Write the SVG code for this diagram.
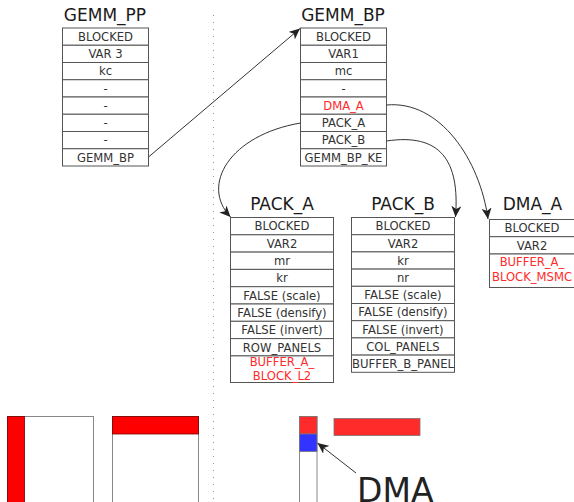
<svg xmlns="http://www.w3.org/2000/svg" width="574" height="502" viewBox="0 0 574 502">
<defs>
<style>
.c{fill:#fff;stroke:#555;stroke-width:1}
.t{font-family:"DejaVu Sans",sans-serif;font-size:11.6px;fill:#333;text-anchor:middle}
.r{fill:#ff2a2a}
.h{font-family:"DejaVu Sans",sans-serif;font-size:17px;fill:#1a1a1a;text-anchor:middle}
.e{fill:none;stroke:#333;stroke-width:1}
</style>
<marker id="ah" markerWidth="12" markerHeight="10" refX="11" refY="5" orient="auto" markerUnits="userSpaceOnUse">
<path d="M0,0 L11,5 L0,10 L3,5 Z" fill="#222"/>
</marker>
</defs>
<rect width="574" height="502" fill="#fff"/>
<line x1="213.5" y1="15" x2="213.5" y2="502" stroke="#999" stroke-width="1" stroke-dasharray="1,6"/>

<g id="gemm_pp">
<text class="h" x="105" y="21">GEMM_PP</text>
<rect class="c" x="62.5" y="28" width="86" height="17.25"/>
<rect class="c" x="62.5" y="45.25" width="86" height="17.25"/>
<rect class="c" x="62.5" y="62.5" width="86" height="17.25"/>
<rect class="c" x="62.5" y="79.75" width="86" height="17.25"/>
<rect class="c" x="62.5" y="97" width="86" height="17.25"/>
<rect class="c" x="62.5" y="114.25" width="86" height="17.25"/>
<rect class="c" x="62.5" y="131.5" width="86" height="17.25"/>
<rect class="c" x="62.5" y="148.75" width="86" height="17.25"/>
<text class="t" x="105.5" y="40.8">BLOCKED</text>
<text class="t" x="105.5" y="58">VAR 3</text>
<text class="t" x="105.5" y="75.3">kc</text>
<text class="t" x="105.5" y="92.5">-</text>
<text class="t" x="105.5" y="109.8">-</text>
<text class="t" x="105.5" y="127">-</text>
<text class="t" x="105.5" y="144.3">-</text>
<text class="t" x="105.5" y="161.5">GEMM_BP</text>
</g>

<g id="gemm_bp">
<text class="h" x="343" y="21">GEMM_BP</text>
<rect class="c" x="300.5" y="28" width="86" height="17.25"/>
<rect class="c" x="300.5" y="45.25" width="86" height="17.25"/>
<rect class="c" x="300.5" y="62.5" width="86" height="17.25"/>
<rect class="c" x="300.5" y="79.75" width="86" height="17.25"/>
<rect class="c" x="300.5" y="97" width="86" height="17.25"/>
<rect class="c" x="300.5" y="114.25" width="86" height="17.25"/>
<rect class="c" x="300.5" y="131.5" width="86" height="17.25"/>
<rect class="c" x="300.5" y="148.75" width="86" height="17.25"/>
<text class="t" x="343.5" y="40.8">BLOCKED</text>
<text class="t" x="343.5" y="58">VAR1</text>
<text class="t" x="343.5" y="75.3">mc</text>
<text class="t" x="343.5" y="92.5">-</text>
<text class="t r" x="343.5" y="109.8">DMA_A</text>
<text class="t" x="343.5" y="127">PACK_A</text>
<text class="t" x="343.5" y="144.3">PACK_B</text>
<text class="t" x="343.5" y="161.5">GEMM_BP_KE</text>
</g>

<g id="pack_a">
<text class="h" x="282" y="210">PACK_A</text>
<rect class="c" x="230.5" y="217.5" width="103" height="17.3"/>
<rect class="c" x="230.5" y="234.8" width="103" height="17.3"/>
<rect class="c" x="230.5" y="252.1" width="103" height="17.3"/>
<rect class="c" x="230.5" y="269.4" width="103" height="17.3"/>
<rect class="c" x="230.5" y="286.7" width="103" height="17.3"/>
<rect class="c" x="230.5" y="304" width="103" height="17.3"/>
<rect class="c" x="230.5" y="321.3" width="103" height="17.3"/>
<rect class="c" x="230.5" y="338.6" width="103" height="17.3"/>
<rect class="c" x="230.5" y="355.9" width="103" height="26.6"/>
<text class="t" x="282" y="230.4">BLOCKED</text>
<text class="t" x="282" y="247.7">VAR2</text>
<text class="t" x="282" y="265">mr</text>
<text class="t" x="282" y="282.3">kr</text>
<text class="t" x="282" y="299.6">FALSE (scale)</text>
<text class="t" x="282" y="316.9">FALSE (densify)</text>
<text class="t" x="282" y="334.2">FALSE (invert)</text>
<text class="t" x="282" y="351.5">ROW_PANELS</text>
<text class="t r" x="282" y="365.5">BUFFER_A_</text>
<text class="t r" x="282" y="379.5">BLOCK_L2</text>
</g>

<g id="pack_b">
<text class="h" x="403" y="210">PACK_B</text>
<rect class="c" x="351.5" y="217.5" width="103" height="17.2"/>
<rect class="c" x="351.5" y="234.7" width="103" height="17.2"/>
<rect class="c" x="351.5" y="251.9" width="103" height="17.2"/>
<rect class="c" x="351.5" y="269.1" width="103" height="17.2"/>
<rect class="c" x="351.5" y="286.3" width="103" height="17.2"/>
<rect class="c" x="351.5" y="303.5" width="103" height="17.2"/>
<rect class="c" x="351.5" y="320.7" width="103" height="17.2"/>
<rect class="c" x="351.5" y="337.9" width="103" height="17.2"/>
<rect class="c" x="351.5" y="355.1" width="103" height="17.2"/>
<text class="t" x="403" y="230.3">BLOCKED</text>
<text class="t" x="403" y="247.5">VAR2</text>
<text class="t" x="403" y="264.7">kr</text>
<text class="t" x="403" y="281.9">nr</text>
<text class="t" x="403" y="299.1">FALSE (scale)</text>
<text class="t" x="403" y="316.3">FALSE (densify)</text>
<text class="t" x="403" y="333.5">FALSE (invert)</text>
<text class="t" x="403" y="350.7">COL_PANELS</text>
<text class="t" x="403" y="367.9" textLength="102" lengthAdjust="spacingAndGlyphs">BUFFER_B_PANEL</text>
</g>

<g id="dma_a">
<text class="h" x="532.5" y="210">DMA_A</text>
<rect class="c" x="489.5" y="219.5" width="86" height="17.2"/>
<rect class="c" x="489.5" y="236.7" width="86" height="17.3"/>
<rect class="c" x="489.5" y="254" width="86" height="33.5"/>
<text class="t" x="532" y="232.3">BLOCKED</text>
<text class="t" x="532" y="249.5">VAR2</text>
<text class="t r" x="532" y="266">BUFFER_A_</text>
<text class="t r" x="532" y="280.5">BLOCK_MSMC</text>
</g>

<g id="connectors">
<line class="e" x1="148.5" y1="157" x2="300" y2="28.5" marker-end="url(#ah)"/>
<path class="e" d="M386.5,105 C440,100 480,160 488,219" marker-end="url(#ah)"/>
<path class="e" d="M386.5,141 C440,133 460,160 455.5,217" marker-end="url(#ah)"/>
<path class="e" d="M300.5,123 C230,135 200,185 230.5,217" marker-end="url(#ah)"/>
</g>

<g id="blocks">
<rect x="7.5" y="416.5" width="86" height="90" fill="#fff" stroke="#888"/>
<rect x="7.5" y="416.5" width="17" height="90" fill="#ff0000" stroke="#700" stroke-width="0.8"/>
<rect x="112.5" y="416.5" width="86" height="90" fill="#fff" stroke="#888"/>
<rect x="112.5" y="416.5" width="86" height="17.5" fill="#ff0000" stroke="#700" stroke-width="0.8"/>
<rect x="299.5" y="416.5" width="17.5" height="90" fill="#fff" stroke="#888"/>
<rect x="299.5" y="416.5" width="17.5" height="17.5" fill="#ff2a2a" stroke="#777" stroke-width="0.8"/>
<rect x="299.5" y="434" width="17.5" height="17.5" fill="#3333ff" stroke="#777" stroke-width="0.8"/>
<rect x="334" y="418.5" width="86" height="17" fill="#ff2a2a" stroke="#777" stroke-width="0.8"/>
<line class="e" x1="356" y1="473" x2="317.5" y2="443" marker-end="url(#ah)"/>
<text x="357" y="502" font-family="DejaVu Sans, sans-serif" font-size="33" fill="#222">DMA</text>
</g>
</svg>
